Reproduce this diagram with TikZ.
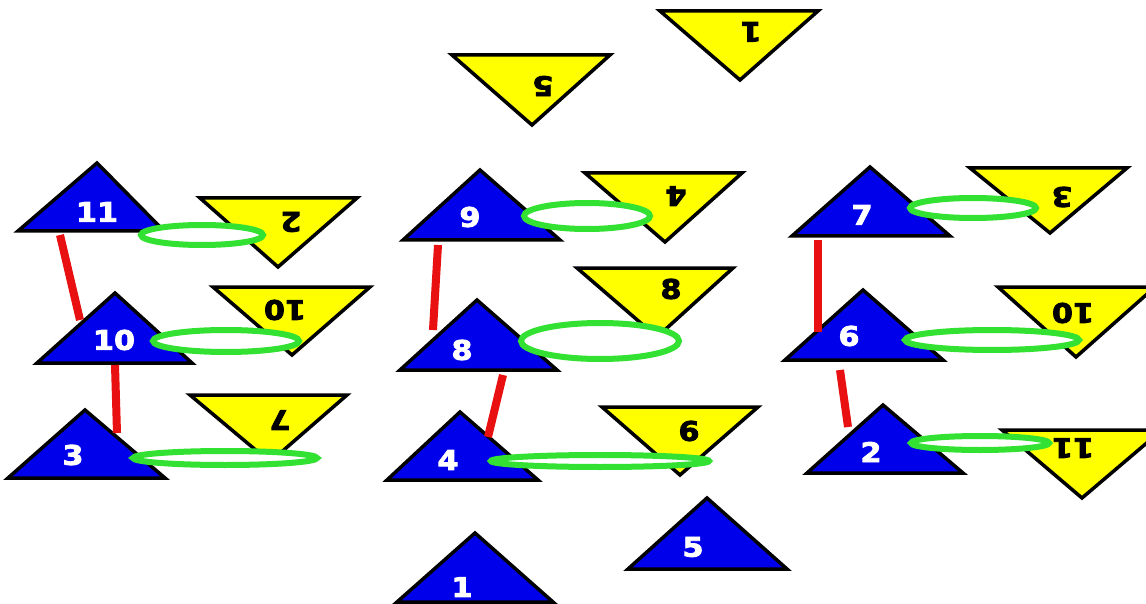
\documentclass[tikz,border=0pt]{standalone}
\usepackage{fontspec}
\setmainfont{DejaVu Sans}
\newfontfamily\labfont{DejaVu Sans Bold}[FakeStretch=1.12, FakeBold=3]
\definecolor{triblue}{RGB}{0,0,235}
\definecolor{triyellow}{RGB}{255,255,0}
\definecolor{ringgreen}{RGB}{50,225,50}
\definecolor{bondred}{RGB}{232,16,16}
\tikzset{
  btri/.style={fill=triblue, draw=black, line width=3.5pt, line join=miter},
  ytri/.style={fill=triyellow, draw=black, line width=3.5pt, line join=miter},
  blab/.style={text=white, inner sep=0pt, font=\labfont\fontsize{27}{27}\selectfont},
  ylab/.style={text=black, inner sep=0pt, font=\labfont\fontsize{27}{27}\selectfont},
  ring/.style={draw=ringgreen, line width=6pt, fill=white},
  bond/.style={draw=bondred, line width=8pt}
}
\begin{document}
\begin{tikzpicture}[x=1pt,y=-1pt]
\useasboundingbox (0,0) rectangle (1146,604);
\clip (0,0) rectangle (1146,604);
\fill[white] (0,0) rectangle (1146,604);
% blue triangles
\draw[btri] (97,163) -- (18,231) -- (164,231) -- cycle;
\draw[btri] (115,293) -- (37,363) -- (192,363) -- cycle;
\draw[btri] (85,410) -- (8,478) -- (165,478) -- cycle;
\draw[btri] (480,170) -- (403,240) -- (560,240) -- cycle;
\draw[btri] (477,300) -- (400,370) -- (557,370) -- cycle;
\draw[btri] (460,412) -- (387,480) -- (538,480) -- cycle;
\draw[btri] (870,167) -- (792,236) -- (950,236) -- cycle;
\draw[btri] (863,290) -- (785,360) -- (943,360) -- cycle;
\draw[btri] (883,405) -- (807,473) -- (963,473) -- cycle;
\draw[btri] (475,533) -- (397,602) -- (553,602) -- cycle;
\draw[btri] (707,498) -- (628,569) -- (787,569) -- cycle;
% yellow triangles
\draw[ytri] (200,198) -- (357,198) -- (278,267) -- cycle;
\draw[ytri] (213,287) -- (370,287) -- (292,355) -- cycle;
\draw[ytri] (190,395) -- (347,395) -- (270,462) -- cycle;
\draw[ytri] (585,173) -- (742,173) -- (665,242) -- cycle;
\draw[ytri] (577,268) -- (733,268) -- (657,337) -- cycle;
\draw[ytri] (602,407) -- (758,407) -- (680,475) -- cycle;
\draw[ytri] (970,168) -- (1127,168) -- (1050,233) -- cycle;
\draw[ytri] (998,287) -- (1155,287) -- (1076,357) -- cycle;
\draw[ytri] (1002,430) -- (1162,430) -- (1082,498) -- cycle;
\draw[ytri] (452,55) -- (610,55) -- (532,125) -- cycle;
\draw[ytri] (660,11) -- (818,11) -- (740,80) -- cycle;
% blue labels
\node[blab] (b11) at (97,212) {11};
\node[blab] (b10) at (114,340) {10};
\node[blab] (b3) at (73,455) {3};
\node[blab] (b9) at (470,217) {9};
\node[blab] (b8) at (462,350) {8};
\node[blab] (b4) at (448,460) {4};
\node[blab] (b7) at (862,215) {7};
\node[blab] (b6) at (849,336) {6};
\node[blab] (b2) at (871,452) {2};
\node[blab] (b1) at (462,587) {1};
\node[blab] (b5) at (693,547) {5};
% yellow labels
\node[ylab, rotate=180] (y2) at (291,222) {2};
\node[ylab, rotate=180] (y10a) at (285,310) {10};
\node[ylab, rotate=180] (y7) at (280,420) {7};
\node[ylab, rotate=180] (y4) at (676,196) {4};
\node[ylab] (y8) at (671,289) {8};
\node[ylab] (y6) at (689,431) {6};
\node[ylab, rotate=180] (y3) at (1062,197) {3};
\node[ylab, rotate=180] (y10b) at (1073,313) {10};
\node[ylab, rotate=180] (y11) at (1073,448) {11};
\node[ylab, rotate=180] (y5) at (543,86) {5};
\node[ylab, rotate=180] (y1) at (751,32) {1};
% red bonds
\coordinate (r1a) at (60,235); \coordinate (r1b) at (80,320);
\coordinate (r2a) at (115,365); \coordinate (r2b) at (117,433);
\coordinate (r3a) at (438,245); \coordinate (r3b) at (433,330);
\coordinate (r4a) at (503,375); \coordinate (r4b) at (488,437);
\coordinate (r5a) at (818,240); \coordinate (r5b) at (818,332);
\coordinate (r6a) at (840,370); \coordinate (r6b) at (848,427);
\draw[bond] (r1a) -- (r1b);
\draw[bond] (r2a) -- (r2b);
\draw[bond] (r3a) -- (r3b);
\draw[bond] (r4a) -- (r4b);
\draw[bond] (r5a) -- (r5b);
\draw[bond] (r6a) -- (r6b);
% green rings
\draw[ring] (202,235) ellipse [x radius=61pt, y radius=10pt];
\draw[ring] (226,341) ellipse [x radius=73pt, y radius=11pt];
\draw[ring] (225,458) ellipse [x radius=92pt, y radius=7pt];
\draw[ring] (587,216) ellipse [x radius=63pt, y radius=13pt];
\draw[ring] (600,341) ellipse [x radius=79pt, y radius=18pt];
\draw[ring] (600,461) ellipse [x radius=109pt, y radius=6pt];
\draw[ring] (973,208) ellipse [x radius=63pt, y radius=10pt];
\draw[ring] (992,340) ellipse [x radius=87pt, y radius=10pt];
\draw[ring] (980,443) ellipse [x radius=69pt, y radius=7pt];
\end{tikzpicture}
\end{document}
